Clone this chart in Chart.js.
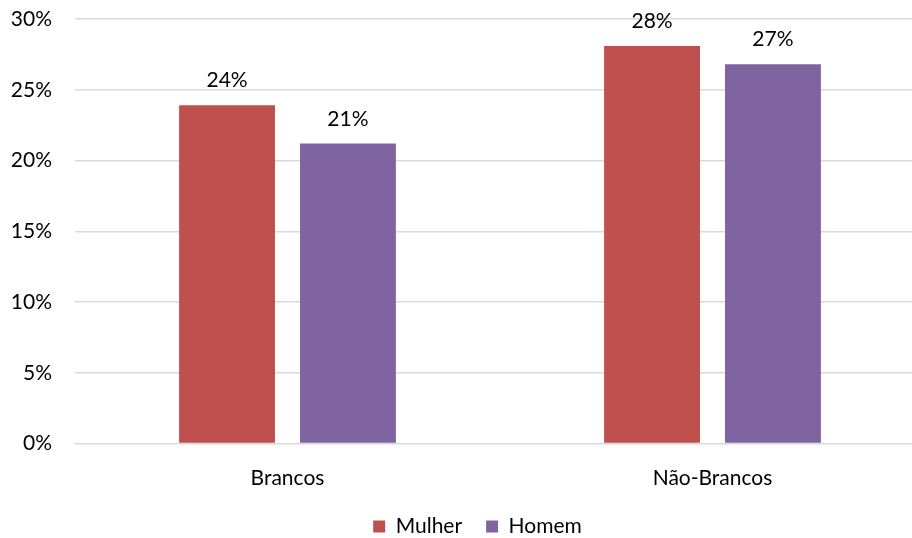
<!DOCTYPE html>
<html lang="pt">
<head>
<meta charset="utf-8">
<title>Mulher / Homem por cor</title>
<script src="https://cdn.jsdelivr.net/npm/chart.js@4"></script>
<style>
    html, body { margin: 0; padding: 0; background: #fff; overflow: hidden; }
    #caixa { width: 955px; height: 547px; position: relative; }
</style>
</head>
<body>
<div id="caixa"><canvas id="canvasGrafico"></canvas></div>
<script>
"use strict";

// ============================================================
// DADOS
// ============================================================
const categorias = ["Brancos", "Não-Brancos"];
const valoresMulher = [23.9, 28.1]; // em %
const valoresHomem  = [21.2, 26.8]; // em %
const ticksY = [0, 5, 10, 15, 20, 25, 30];

const COR_MULHER = "#C0504D";
const COR_HOMEM  = "#8064A2";
const FONTE = "Lato, 'Open Sans', sans-serif";
const TAM = 21;

// ============================================================
// Plugin simples: escreve o valor arredondado acima de cada barra
// ============================================================
const rotulosBarras = {
    id: "rotulosBarras",
    afterDatasetsDraw(chart) {
        let ctx = chart.ctx;
        ctx.save();
        ctx.font = TAM + "px " + FONTE;
        ctx.fillStyle = "#000";
        ctx.textAlign = "center";
        ctx.textBaseline = "alphabetic";
        chart.data.datasets.forEach(function (ds, i) {
            let meta = chart.getDatasetMeta(i);
            meta.data.forEach(function (barra, j) {
                let texto = Math.round(ds.data[j]) + "%";
                ctx.fillText(texto, barra.x, barra.y - 18);
            });
        });
        ctx.restore();
    }
};

// a legenda fica centrada na largura toda, não só até ao padding da direita
const centraLegenda = {
    id: "centraLegenda",
    afterLayout(chart) {
        chart.legend.left += 15;
        chart.legend.right += 15;
    }
};

new Chart(document.getElementById("canvasGrafico"), {
    type: "bar",
    data: {
        labels: categorias,
        datasets: [
            { label: "Mulher", data: valoresMulher, backgroundColor: COR_MULHER },
            { label: "Homem",  data: valoresHomem,  backgroundColor: COR_HOMEM }
        ]
    },
    options: {
        responsive: true,
        maintainAspectRatio: false,
        animation: false,
        categoryPercentage: 0.569,
        barPercentage: 0.793,
        layout: { padding: { top: 19, right: 30, left: 0, bottom: 0 } },
        plugins: {
            legend: {
                position: "bottom",
                labels: {
                    font: { family: FONTE, size: TAM },
                    color: "#000",
                    boxWidth: 12,
                    boxHeight: 12,
                    padding: 24
                }
            },
            tooltip: { enabled: false }
        },
        scales: {
            x: {
                grid: { display: false, drawTicks: false },
                border: { display: false },
                ticks: { font: { family: FONTE, size: TAM }, color: "#000", padding: 22 },
                afterFit(scale) { scale.height = 48.5; }
            },
            y: {
                min: 0,
                max: 30,
                afterBuildTicks(scale) {
                    scale.ticks = ticksY.map(v => ({ value: v }));
                },
                afterFit(scale) {
                    scale.width = 75;
                    // o espaço em cima/baixo vem do padding do layout
                    scale.paddingTop = 0;
                    scale.paddingBottom = 0;
                },
                grid: { color: "#D9D9D9", lineWidth: 1.5, drawTicks: false },
                border: { display: false },
                ticks: {
                    font: { family: FONTE, size: TAM },
                    color: "#000",
                    padding: 23,
                    callback: v => v + "%"
                }
            }
        }
    },
    plugins: [rotulosBarras, centraLegenda]
});
</script>
</body>
</html>
